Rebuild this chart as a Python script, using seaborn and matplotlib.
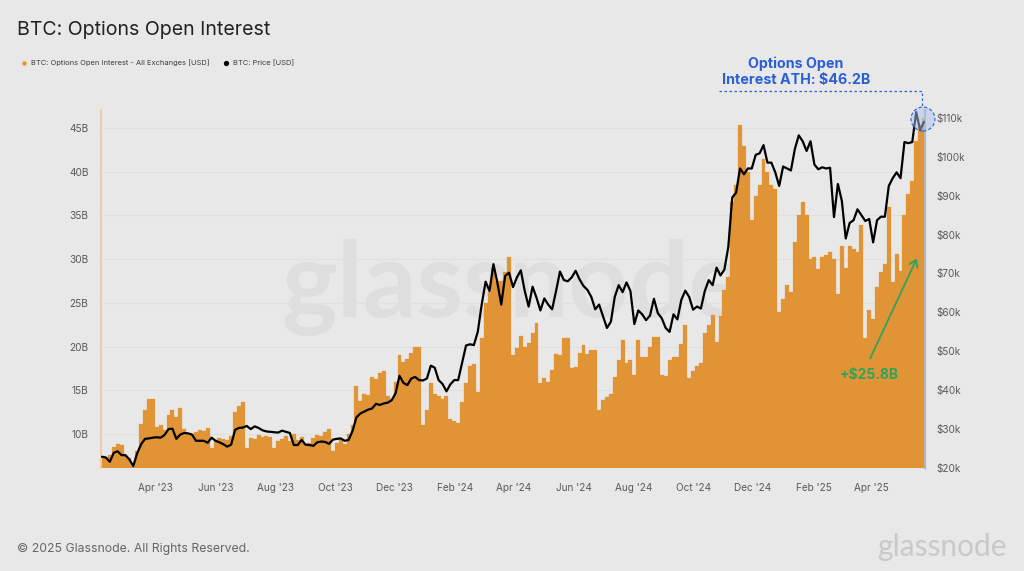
import numpy as np
import pandas as pd
import seaborn as sns
import matplotlib
matplotlib.use("Agg")
import matplotlib.pyplot as plt
from matplotlib.lines import Line2D
from matplotlib.patches import Ellipse, FancyArrowPatch

start_date = "2023-02-05"
sample_days = 4

open_interest_b = [
    7.4,7.3,7.6,8.5,8.8,8.7,7.6,7.3,6.3,8.0,
    11.2,12.8,14.0,14.0,10.8,11.0,10.5,12.2,12.7,12.0,
    13.0,10.6,10.0,10.0,10.2,10.5,10.4,10.7,8.4,9.3,
    9.5,9.4,9.3,9.8,12.5,13.2,13.7,8.4,9.5,9.4,
    9.9,9.7,9.8,9.7,8.4,9.2,9.4,9.8,9.2,10.0,
    9.3,9.6,8.9,9.0,9.5,9.9,9.8,10.2,10.6,8.0,
    9.0,9.4,8.8,10.0,11.0,15.5,13.8,14.6,14.5,16.5,
    16.3,17.0,17.2,14.4,14.0,16.0,19.0,18.2,18.6,19.3,
    20.0,20.0,11.0,12.7,15.8,14.6,14.3,14.0,14.3,11.7,
    11.5,11.3,13.7,15.8,17.8,18.0,14.8,21.0,25.0,26.2,
    29.0,27.5,27.5,28.5,30.3,19.0,19.8,21.2,20.0,20.4,
    21.5,22.7,15.8,16.4,16.0,17.3,19.2,19.0,21.0,21.0,
    17.5,17.7,19.3,20.2,19.2,19.6,19.6,12.7,13.9,14.2,
    14.6,16.5,18.5,20.7,18.1,18.5,16.7,20.7,18.8,18.8,
    20.0,21.1,21.1,16.7,16.6,18.5,18.8,18.8,20.3,22.5,
    16.4,17.2,17.8,18.1,21.5,22.5,23.6,20.5,23.5,26.5,
    28.0,36.5,38.5,45.4,43.0,40.0,34.5,37.2,38.5,41.5,
    40.0,38.5,38.0,24.0,25.5,27.0,26.3,32.0,35.0,36.5,
    35.0,30.0,30.3,28.9,30.3,30.5,30.8,30.0,26.0,31.5,
    29.0,31.5,31.2,30.8,33.9,21.0,24.2,23.2,26.8,28.5,
    29.5,36.0,27.4,30.6,28.6,35.0,37.5,39.0,43.5,45.3,
    46.2,
]

price_k = [
    22.9,22.7,21.6,23.9,24.3,23.3,23.3,22.2,20.5,23.8,
    26.1,27.5,27.6,27.8,27.9,27.8,28.5,30.0,30.1,27.5,
    28.6,29.0,28.9,28.6,27.0,27.0,27.0,26.5,27.8,27.0,
    26.6,26.1,25.5,26.0,29.8,30.3,30.4,30.8,30.0,30.7,
    30.3,29.7,29.4,29.3,29.2,29.1,29.6,29.3,29.0,25.9,
    25.9,27.2,26.0,25.9,25.7,26.6,26.8,26.7,26.2,27.3,
    27.5,27.6,27.0,27.2,29.5,33.0,34.0,34.5,35.0,35.3,
    36.5,36.2,36.6,36.8,37.4,39.2,43.7,41.9,41.3,43.0,
    43.4,42.6,42.5,43.0,46.3,45.8,42.6,41.6,39.7,41.5,
    42.6,42.6,47.0,51.5,51.8,51.6,55.0,62.0,67.9,65.5,
    72.4,67.7,62.0,69.4,70.2,66.5,69.0,70.8,65.5,61.5,
    66.6,63.8,60.5,63.6,62.0,60.8,65.5,70.5,68.3,68.0,
    69.0,70.7,68.5,66.8,65.8,64.0,60.8,62.0,59.0,56.0,
    57.6,64.0,67.0,65.2,67.7,65.5,57.0,60.5,59.5,58.0,
    59.2,63.5,59.8,58.5,56.0,55.0,59.5,58.2,63.2,65.6,
    64.0,60.7,61.5,61.0,65.5,68.3,67.0,71.5,69.5,71.0,
    76.8,89.5,90.8,97.0,95.5,97.0,97.0,100.5,100.9,103.0,
    98.5,98.5,96.0,92.5,97.5,97.0,96.5,102.0,105.5,104.0,
    101.5,104.0,98.0,96.8,97.3,97.0,97.2,84.5,93.0,88.7,
    79.0,83.0,83.7,86.5,85.0,83.5,84.0,78.0,83.7,84.6,
    84.6,92.5,94.5,96.0,94.5,103.8,103.5,103.8,111.5,106.9,
    109.0,
]

left_ticks = [10, 15, 20, 25, 30, 35, 40, 45]
left_labels = ["10B", "15B", "20B", "25B", "30B", "35B", "40B", "45B"]
right_ticks = [20, 30, 40, 50, 60, 70, 80, 90, 100, 110]
right_labels = ["$20k", "$30k", "$40k", "$50k", "$60k", "$70k", "$80k", "$90k", "$100k", "$110k"]
month_ticks = ["2023-04-01","2023-06-01","2023-08-01","2023-10-01","2023-12-01","2024-02-01",
               "2024-04-01","2024-06-01","2024-08-01","2024-10-01","2024-12-01","2025-02-01","2025-04-01"]
month_labels = ["Apr '23","Jun '23","Aug '23","Oct '23","Dec '23","Feb '24","Apr '24",
                "Jun '24","Aug '24","Oct '24","Dec '24","Feb '25","Apr '25"]

BG = "#E8E8E8"
ORANGE = "#E19436"
BLUE = "#2A5FD8"
GREEN = "#2FA35C"
TXT = "#5A5A5A"
FONT = "Inter"

sns.set_theme(style="white", rc={"figure.facecolor": BG, "axes.facecolor": BG})
plt.rcParams["font.family"] = [FONT, "DejaVu Sans"]

W, H = 1024, 571
fig = plt.figure(figsize=(W / 100, H / 100), dpi=100, facecolor=BG)
ax = fig.add_axes([101 / W, (H - 468) / H, 824 / W, 358 / H])

def fx(x):
    return x / W
def fy(y):
    return (H - y) / H

base = pd.Timestamp(start_date)
df = pd.DataFrame({
    "day": [sample_days * i for i in range(len(open_interest_b))],
    "oi": open_interest_b,
    "price": price_k,
})

ax.text(0.5, 0.505, "glassnode", transform=ax.transAxes, ha="center", va="center",
        fontsize=76, color="#DEDEDE", family="Lato", fontweight="bold", zorder=0.5)
ax.set_axisbelow(True)
ax.yaxis.grid(True, color="#E0E0E0", lw=0.8)
ax.xaxis.grid(False)

sns.barplot(data=df, x="day", y="oi", native_scale=True, ax=ax, color=ORANGE, saturation=1,
            width=1.0, linewidth=0.2, edgecolor=ORANGE, errorbar=None, zorder=2)

ax.set_xlim(-1, 841)
ax.set_ylim(6.11, 47.07)
ax.set_yticks(left_ticks)
ax.set_yticklabels(left_labels)
ax.set_xticks([(pd.Timestamp(d) - base).days for d in month_ticks])
ax.set_xticklabels(month_labels)
ax.set_xlabel("")
ax.set_ylabel("")
ax.tick_params(axis="y", length=0, pad=9, labelsize=7.3, labelcolor=TXT)
ax.tick_params(axis="x", length=0, pad=11, labelsize=7.2, labelcolor=TXT)

ax2 = ax.twinx()
sns.lineplot(data=df, x="day", y="price", ax=ax2, color="black", lw=1.6, errorbar=None, zorder=5)
ax2.set_ylim(20, 112.03)
ax2.set_yticks(right_ticks)
ax2.set_yticklabels(right_labels)
ax2.set_ylabel("")
ax2.set_xlabel("")
ax2.grid(False)
ax2.tick_params(axis="y", length=0, pad=8.5, labelsize=7.2, labelcolor=TXT)

for a in (ax, ax2):
    for s in a.spines.values():
        s.set_visible(False)
ax.spines["left"].set_visible(True)
ax.spines["left"].set_color("#EBCDA6")
ax.spines["left"].set_linewidth(1.4)
ax2.spines["right"].set_visible(True)
ax2.spines["right"].set_color("#B4B4B4")
ax2.spines["right"].set_linewidth(1.6)

fig.text(fx(17), fy(35), "BTC: Options Open Interest", fontsize=14.1, color="#222222", ha="left", va="baseline")

handles = [
    Line2D([], [], ls="", marker="o", ms=3.8, color=ORANGE, mec="#F2DCC0", mew=0.8),
    Line2D([], [], ls="", marker="o", ms=3.8, color="black", mec="black", mew=0),
]
fig.legend(handles, ["BTC: Options Open Interest - All Exchanges [USD]", "BTC: Price [USD]"],
           loc="center left", bbox_to_anchor=(fx(16), fy(63)), ncols=2, frameon=False,
           fontsize=5.4, labelcolor="#3C3C3C", handletextpad=0.0, columnspacing=1.15, borderpad=0, borderaxespad=0)

fig.text(fx(796), fy(72), "Options Open\nInterest ATH: $46.2B", fontsize=10.3, fontweight="bold", color=BLUE,
         ha="center", va="center", linespacing=1.15)
fig.add_artist(Line2D([fx(719), fx(922), fx(922)], [fy(91), fy(91), fy(108)], transform=fig.transFigure,
                      color=BLUE, lw=0.9, ls=(0, (2, 2))))
fig.add_artist(Ellipse((fx(923), fy(119)), 24 / W, 24 / H, transform=fig.transFigure,
                       facecolor="#A9C4EC", alpha=0.5, edgecolor="none"))
fig.add_artist(Ellipse((fx(923), fy(119)), 24 / W, 24 / H, transform=fig.transFigure,
                       facecolor="none", edgecolor=BLUE, lw=0.8, ls=(0, (3, 2))))

fig.add_artist(FancyArrowPatch((fx(869), fy(361)), (fx(918), fy(256)), transform=fig.transFigure,
                               arrowstyle="->,head_length=3,head_width=2", color=GREEN, lw=1.3, mutation_scale=1.6))
fig.text(fx(869), fy(375), "+$25.8B", fontsize=10, fontweight="bold", color=GREEN, ha="center", va="center")

fig.text(fx(17), fy(552), "\u00a9 2025 Glassnode. All Rights Reserved.", fontsize=8.8, color="#666666", ha="left", va="baseline")
fig.text(fx(1007), fy(556), "glassnode", fontsize=21.5, color="#C9C9C9", family="Lato", ha="right", va="baseline")

fig.savefig("out.png", dpi=100, facecolor=BG)
